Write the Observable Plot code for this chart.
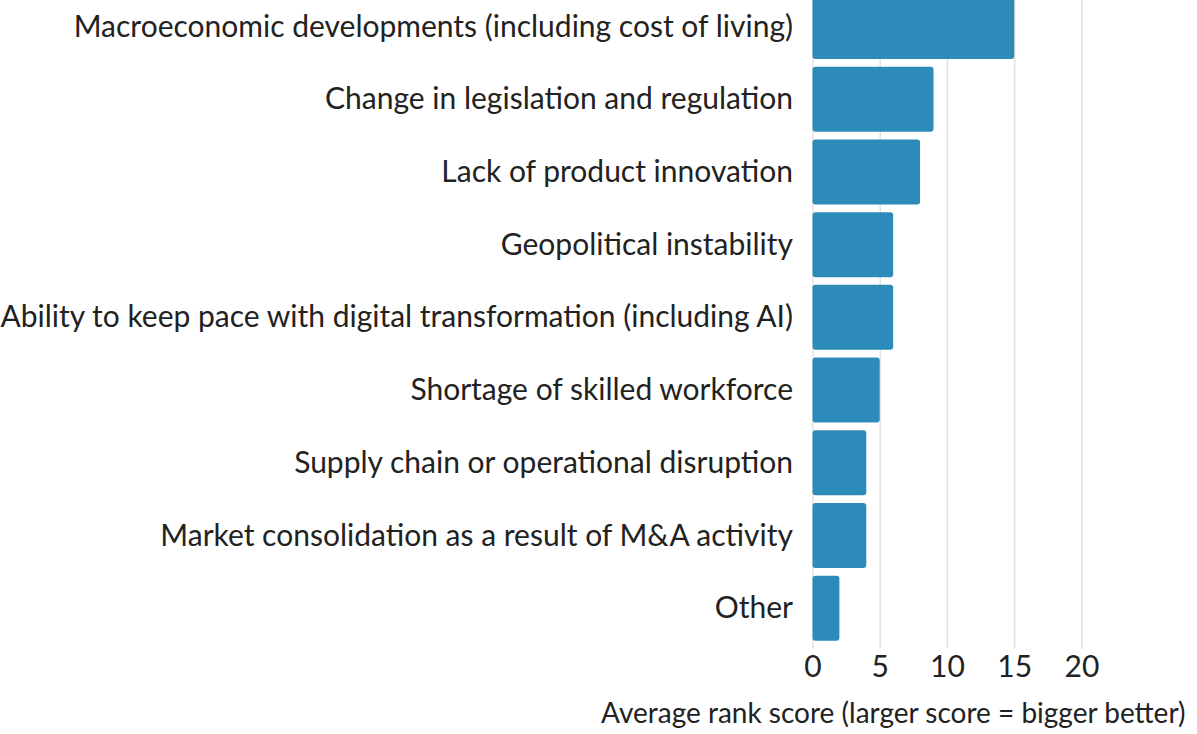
<!DOCTYPE html>
<html>
<head>
<meta charset="utf-8">
<script src="https://cdn.jsdelivr.net/npm/d3@7"></script>
<script src="https://cdn.jsdelivr.net/npm/@observablehq/plot@0.6"></script>
<style>
  html, body { margin: 0; padding: 0; background: #fff; }
  #chart svg { display: block; }
</style>
</head>
<body>
<div id="chart"></div>
<script>
const categories = [
  "Macroeconomic developments (including cost of living)",
  "Change in legislation and regulation",
  "Lack of product innovation",
  "Geopolitical instability",
  "Ability to keep pace with digital transformation (including AI)",
  "Shortage of skilled workforce",
  "Supply chain or operational disruption",
  "Market consolidation as a result of M&A activity",
  "Other"
];
const scores = [15, 9, 8, 6, 6, 5, 4, 4, 2];
const xTicks = [0, 5, 10, 15, 20];
const xLabel = "Average rank score (larger score = bigger better)";

const data = categories.map((c, i) => ({category: c, score: scores[i]}));

const chart = Plot.plot({
  width: 1197,
  height: 734,
  marginLeft: 812.5,
  marginRight: 12,
  marginTop: -13.7,
  marginBottom: 85.6,
  style: {fontFamily: "Lato, sans-serif", fontSize: "30px", color: "#222", background: "#fff"},
  x: {domain: [0, 27.7], ticks: xTicks, label: null},
  y: {domain: categories, padding: 0.106, round: false, label: null},
  marks: [
    Plot.gridX(xTicks, {stroke: "#e3e3e3", strokeOpacity: 1, strokeWidth: 1.5}),
    Plot.barX(data, {x: "score", y: "category", fill: "#2d8bba", rx: 3}),
    Plot.axisY({tickSize: 0, tickPadding: 20, label: null, fontSize: 30}),
    Plot.axisX(xTicks, {tickSize: 0, tickPadding: 7, label: null, fontSize: 30}),
    Plot.text([xLabel], {frameAnchor: "bottom-right", lineAnchor: "bottom", dy: 74, fontSize: 28, fill: "#222"})
  ]
});
document.getElementById("chart").appendChild(chart);
</script>
</body>
</html>
